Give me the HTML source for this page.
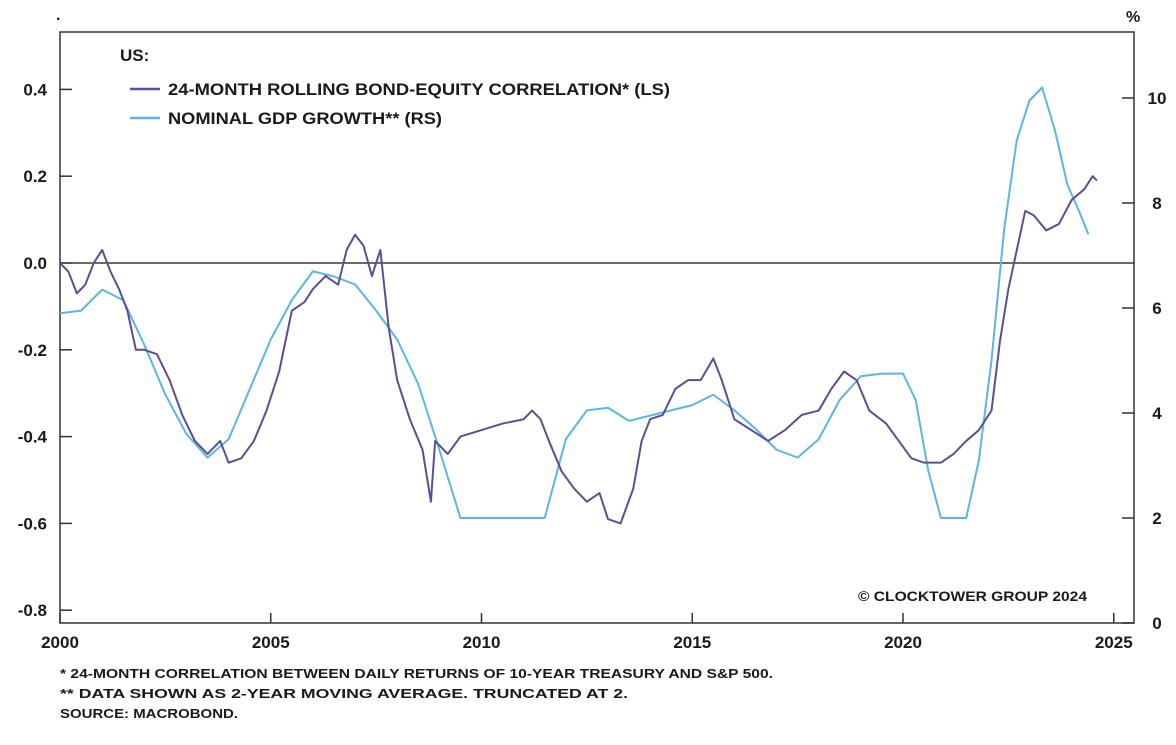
<!DOCTYPE html>
<html><head><meta charset="utf-8"><style>
html,body{margin:0;padding:0;background:#fff;}
svg text{font-family:"Liberation Sans",sans-serif;font-weight:bold;fill:#1a1a1a;}
</style></head><body>
<svg id="chart" width="1176" height="740" viewBox="0 0 1176 740" xmlns="http://www.w3.org/2000/svg">
<rect x="0" y="0" width="1176" height="740" fill="#fff"/>
<g id="axes"></g>
<g id="series"></g>
<text x="56" y="20" font-size="16">.</text>
<text x="1126" y="22" font-size="16">%</text>
<g>
<text x="120" y="61" font-size="17">US:</text>
<line x1="130" y1="89" x2="160" y2="89" stroke="#5b4e96" stroke-width="2.5"/>
<text x="168" y="95" font-size="17" textLength="502" lengthAdjust="spacingAndGlyphs">24-MONTH ROLLING BOND-EQUITY CORRELATION* (LS)</text>
<line x1="130" y1="118" x2="160" y2="118" stroke="#5ab6e6" stroke-width="2.5"/>
<text x="168" y="124" font-size="17" textLength="274" lengthAdjust="spacingAndGlyphs">NOMINAL GDP GROWTH** (RS)</text>
</g>
<text x="858" y="601" font-size="14" textLength="229" lengthAdjust="spacingAndGlyphs">© CLOCKTOWER GROUP 2024</text>
<text x="60" y="678" font-size="13" textLength="713" lengthAdjust="spacingAndGlyphs">* 24-MONTH CORRELATION BETWEEN DAILY RETURNS OF 10-YEAR TREASURY AND S&amp;P 500.</text>
<text x="60" y="698" font-size="13" textLength="568" lengthAdjust="spacingAndGlyphs">** DATA SHOWN AS 2-YEAR MOVING AVERAGE. TRUNCATED AT 2.</text>
<text x="60" y="718" font-size="13" textLength="178" lengthAdjust="spacingAndGlyphs">SOURCE: MACROBOND.</text>
</svg>
<script>
const xTicks=[2000,2005,2010,2015,2020,2025];
const leftTicks=[0.4,0.2,0.0,-0.2,-0.4,-0.6,-0.8];
const leftLabels=["0.4","0.2","0.0","-0.2","-0.4","-0.6","-0.8"];
const rightTicks=[10,8,6,4,2,0];
const corrDates=[2000.0,2000.2,2000.4,2000.6,2000.8,2001.0,2001.2,2001.4,2001.6,2001.8,2002.0,2002.3,2002.6,2002.9,2003.2,2003.5,2003.8,2004.0,2004.3,2004.6,2004.9,2005.2,2005.5,2005.8,2006.0,2006.3,2006.6,2006.8,2007.0,2007.2,2007.4,2007.6,2007.8,2008.0,2008.3,2008.6,2008.8,2008.9,2009.2,2009.5,2010.0,2010.5,2011.0,2011.2,2011.4,2011.6,2011.9,2012.2,2012.5,2012.8,2013.0,2013.3,2013.6,2013.8,2014.0,2014.3,2014.6,2014.9,2015.2,2015.5,2015.7,2016.0,2016.4,2016.8,2017.2,2017.6,2018.0,2018.3,2018.6,2018.9,2019.2,2019.6,2019.9,2020.2,2020.5,2020.9,2021.2,2021.5,2021.8,2022.1,2022.3,2022.5,2022.7,2022.9,2023.1,2023.4,2023.7,2024.0,2024.3,2024.5,2024.6];
const corrValues=[0.0,-0.02,-0.07,-0.05,0.0,0.03,-0.02,-0.06,-0.11,-0.2,-0.2,-0.21,-0.27,-0.35,-0.41,-0.44,-0.41,-0.46,-0.45,-0.41,-0.34,-0.25,-0.11,-0.09,-0.06,-0.03,-0.05,0.03,0.065,0.04,-0.03,0.03,-0.15,-0.27,-0.36,-0.43,-0.55,-0.41,-0.44,-0.4,-0.385,-0.37,-0.36,-0.34,-0.36,-0.41,-0.48,-0.52,-0.55,-0.53,-0.59,-0.6,-0.52,-0.41,-0.36,-0.35,-0.29,-0.27,-0.27,-0.22,-0.27,-0.36,-0.385,-0.41,-0.385,-0.35,-0.34,-0.29,-0.25,-0.27,-0.34,-0.37,-0.41,-0.45,-0.46,-0.46,-0.44,-0.41,-0.385,-0.34,-0.18,-0.06,0.03,0.12,0.11,0.075,0.09,0.145,0.17,0.2,0.19];
const gdpDates=[2000.0,2000.5,2001.0,2001.5,2002.0,2002.5,2003.0,2003.5,2004.0,2004.5,2005.0,2005.5,2006.0,2006.5,2007.0,2007.5,2008.0,2008.5,2009.0,2009.5,2011.5,2012.0,2012.5,2013.0,2013.5,2014.0,2014.5,2015.0,2015.5,2016.0,2016.5,2017.0,2017.5,2018.0,2018.5,2019.0,2019.5,2020.0,2020.3,2020.6,2020.9,2021.5,2021.8,2022.1,2022.4,2022.7,2023.0,2023.3,2023.6,2023.9,2024.2,2024.4];
const gdpValues=[5.9,5.95,6.35,6.15,5.3,4.35,3.6,3.15,3.5,4.45,5.4,6.15,6.7,6.6,6.45,5.95,5.4,4.55,3.3,2.0,2.0,3.5,4.05,4.1,3.85,3.95,4.05,4.15,4.35,4.05,3.7,3.3,3.15,3.5,4.25,4.7,4.75,4.75,4.25,2.9,2.0,2.0,3.1,5.0,7.5,9.2,9.95,10.2,9.4,8.35,7.8,7.4];

const L=60,R=1134,T=32,B=623;
const xS=y=>60+(y-2000)*42.15;
const yL=v=>263-v*434;
const yR=v=>623-v*52.5;
const NS="http://www.w3.org/2000/svg";
function mk(tag,attrs,parent){const e=document.createElementNS(NS,tag);for(const k in attrs)e.setAttribute(k,attrs[k]);parent.appendChild(e);return e;}
const ax=document.getElementById('axes'),se=document.getElementById('series');
let f=mk('rect',{x:L,y:T,width:R-L,height:B-T,fill:'none',stroke:'#333','stroke-width':1.5},ax);


let z=mk('line',{x1:L,x2:R,y1:yL(0),y2:yL(0),stroke:'#111','stroke-width':1.2},ax);


xTicks.forEach(t=>{const x=xS(t);
 let l=mk('line',{x1:x,x2:x,y1:B,y2:B-10,stroke:'#333','stroke-width':1.5},ax);
 
 
 let tx=mk('text',{x:x,y:B+25,'font-size':17,'text-anchor':'middle'},ax);tx.textContent=t;
 
 });
leftTicks.forEach((t,i)=>{const y=yL(t);
 let l=mk('line',{x1:L,x2:L+12,y1:y,y2:y,stroke:'#333','stroke-width':1.5},ax);
 
 
 let tx=mk('text',{x:47,y:y+6,'font-size':17,'text-anchor':'end'},ax);tx.textContent=leftLabels[i];
 
 });
rightTicks.forEach(t=>{const y=yR(t);
 let l=mk('line',{x1:R-12,x2:R,y1:y,y2:y,stroke:'#333','stroke-width':1.5},ax);
 
 
 let tx=mk('text',{x:1157,y:y+6,'font-size':17,'text-anchor':'middle'},ax);tx.textContent=t;
 
 });
let g=mk('polyline',{points:gdpDates.map((d,i)=>xS(d)+','+yR(gdpValues[i])).join(' '),fill:'none',stroke:'#5ab6e6','stroke-width':2,'stroke-linejoin':'round'},se);


let c=mk('polyline',{points:corrDates.map((d,i)=>xS(d)+','+yL(corrValues[i])).join(' '),fill:'none',stroke:'#5b4e96','stroke-width':2,'stroke-linejoin':'round'},se);


</script>
</body></html>
